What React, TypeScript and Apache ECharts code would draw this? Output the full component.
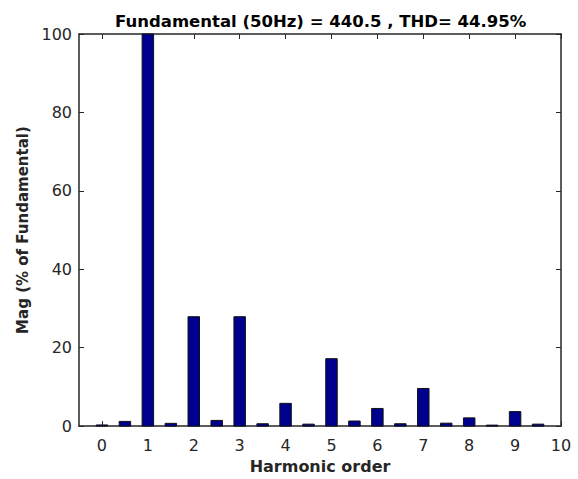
import React, { useEffect, useRef } from "react";
import * as echarts from "echarts";

const harmonicOrders = [0, 0.5, 1, 1.5, 2, 2.5, 3, 3.5, 4, 4.5, 5, 5.5, 6, 6.5, 7, 7.5, 8, 8.5, 9, 9.5];
const magnitudes = [0.3, 1.2, 100, 0.7, 27.9, 1.45, 27.9, 0.6, 5.8, 0.5, 17.2, 1.3, 4.5, 0.6, 9.6, 0.75, 2.1, 0.25, 3.7, 0.5];
const xTickValues = [0, 1, 2, 3, 4, 5, 6, 7, 8, 9, 10];
const titleText = "Fundamental (50Hz) = 440.5 , THD= 44.95%";
const xName = "Harmonic order";
const yName = "Mag (% of Fundamental)";

export default function App() {
  const ref = useRef<HTMLDivElement>(null);
  useEffect(() => {
    if (!ref.current) return;
    const chart = echarts.init(ref.current, null, { renderer: "svg" });
    const data = harmonicOrders.map((x, i) => [x, magnitudes[i]]);
    const axisColor = "#262626";
    const labelFont = { fontFamily: "DejaVu Sans", fontSize: 16, color: "#262626" };
    chart.setOption({
      animation: false,
      backgroundColor: "#ffffff",
      title: {
        text: titleText,
        left: 110,
        top: 8,
        textStyle: { fontFamily: "DejaVu Sans", fontWeight: "bold", fontSize: 16.5, color: "#000" },
      },
      grid: { left: 79, right: 17, top: 34, bottom: 50, containLabel: false },
      xAxis: [
        {
          type: "value",
          min: -0.5,
          max: 10,
          name: xName,
          nameLocation: "middle",
          nameGap: 31,
          nameTextStyle: { fontFamily: "DejaVu Sans", fontWeight: "bold", fontSize: 16, color: "#262626" },
          axisLine: { show: true, onZero: false, lineStyle: { color: axisColor, width: 1.5 } },
          axisTick: { show: true, inside: true, length: 5, customValues: xTickValues, lineStyle: { color: axisColor } },
          axisLabel: { show: true, margin: 11, customValues: xTickValues, ...labelFont },
          splitLine: { show: false },
        },
        {
          type: "value",
          position: "top",
          min: -0.5,
          max: 10,
          axisLine: { show: true, onZero: false, lineStyle: { color: axisColor, width: 1.5 } },
          axisTick: { show: true, inside: true, length: 5, customValues: xTickValues, lineStyle: { color: axisColor } },
          axisLabel: { show: false },
          splitLine: { show: false },
        },
      ],
      yAxis: [
        {
          type: "value",
          position: "left",
          min: 0,
          max: 100,
          interval: 20,
          name: yName,
          nameLocation: "middle",
          nameGap: 44,
          nameRotate: 90,
          nameTextStyle: { fontFamily: "DejaVu Sans", fontWeight: "bold", fontSize: 15, color: "#262626" },
          axisLine: { show: true, onZero: false, lineStyle: { color: axisColor, width: 1.5 } },
          axisTick: { show: true, inside: true, length: 5, lineStyle: { color: axisColor } },
          axisLabel: { show: true, margin: 7, ...labelFont },
          splitLine: { show: false },
        },
        {
          type: "value",
          position: "right",
          min: 0,
          max: 100,
          interval: 20,
          axisLine: { show: true, onZero: false, lineStyle: { color: axisColor, width: 1.5 } },
          axisTick: { show: true, inside: true, length: 5, lineStyle: { color: axisColor } },
          axisLabel: { show: false },
          splitLine: { show: false },
        },
      ],
      series: [
        {
          type: "custom",
          xAxisIndex: 0,
          yAxisIndex: 0,
          data,
          encode: { x: 0, y: 1 },
          renderItem: (params: any, api: any) => {
            const x = api.value(0);
            const y = api.value(1);
            const p0 = api.coord([x - 0.125, y]);
            const p1 = api.coord([x + 0.125, 0]);
            return {
              type: "rect",
              shape: { x: p0[0], y: p0[1], width: p1[0] - p0[0], height: p1[1] - p0[1] },
              style: { fill: "#00008F", stroke: "#111111", lineWidth: 1 },
            };
          },
        },
      ],
    });
    return () => chart.dispose();
  }, []);
  return (
    <div
      ref={ref}
      style={{ position: "fixed", left: 0, top: 0, width: 578, height: 479 }}
    />
  );
}
